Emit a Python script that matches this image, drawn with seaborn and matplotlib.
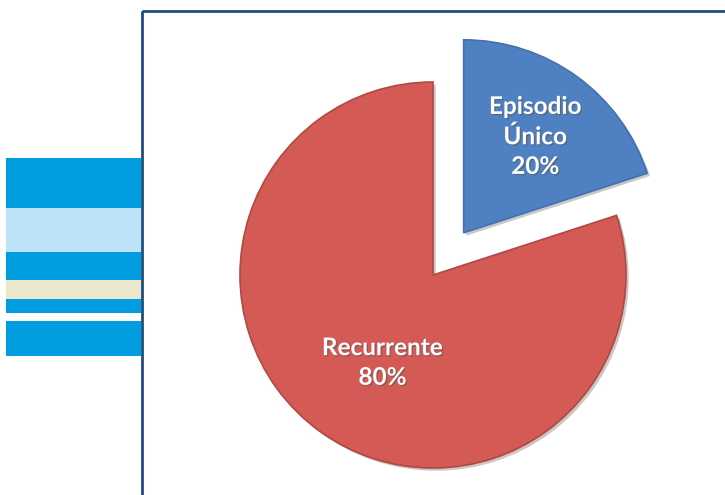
import numpy as np
import seaborn as sns
import matplotlib.pyplot as plt
import matplotlib.patheffects as pe
from matplotlib.patches import Rectangle

# data
categories = ["Episodio\nÚnico", "Recurrente"]
shares = [20, 80]
explode = [0.27, 0.0]

slice_colors = ["#4f81c2", "#d45a55"]
edge_colors = ["#4471ab", "#b04843"]

sns.set_style("white")
plt.rcParams['font.family'] = ['Lato', 'DejaVu Sans']

fig = plt.figure(figsize=(7.25, 4.95), dpi=100)

# decorative stripes on the left + frame (figure coords, pixel based)
W, H = 725, 495
bg = fig.add_axes([0, 0, 1, 1])
bg.set_xlim(0, W)
bg.set_ylim(H, 0)
bg.axis('off')
stripes = [(158, 208, "#009ee0"), (208, 252, "#bde4f6"), (252, 280, "#009ee0"),
           (280, 299, "#ebe7ca"), (299, 313, "#009ee0"), (321, 356, "#009ee0")]
for y0, y1, c in stripes:
    bg.add_patch(Rectangle((6, y0), 135, y1 - y0, color=c, lw=0))
bg.add_patch(Rectangle((142, 11), 700, 600, fill=False, ec="#1d4f7c", lw=2))

# pie axes: unit radius = 193 px, centre at (433, 275)
ax = fig.add_axes([0, 0, 1, 1])
wedges, texts = ax.pie(shares, labels=categories, explode=explode,
                       colors=slice_colors, startangle=90, counterclock=False,
                       labeldistance=0.5,
                       wedgeprops=dict(linewidth=1.2),
                       textprops=dict(color="white", fontsize=17.5, fontweight="bold"))

r = 193
cx, cy = 433, 275
ax.set_xlim(-cx / r, (W - cx) / r)
ax.set_ylim((cy - H) / r, cy / r)
ax.axis('off')

for w, ec in zip(wedges, edge_colors):
    w.set_edgecolor(ec)
    w.set_path_effects([pe.SimplePatchShadow(offset=(2, -2), alpha=0.25), pe.Normal()])

label_r = [0.63, 0.56]
label_nudge = [(0.0, -0.01), (0.067, 0.0)]
for w, t, lr, (nx, ny), lab in zip(wedges, texts, label_r, label_nudge, categories):
    mid = np.deg2rad((w.theta1 + w.theta2) / 2)
    x0, y0 = w.center
    t.set_position((x0 + lr * np.cos(mid) + nx, y0 + lr * np.sin(mid) + ny))
    t.set_text(f"{lab}\n{shares[categories.index(lab)]}%")
    t.set_ha("center")
    t.set_va("center")
    t.set_multialignment("center")
    t.set_linespacing(1.35)
    t.set_path_effects([pe.withSimplePatchShadow(offset=(1, -1), shadow_rgbFace="#555555", alpha=0.5)])

fig.savefig("out.png", dpi=100)
